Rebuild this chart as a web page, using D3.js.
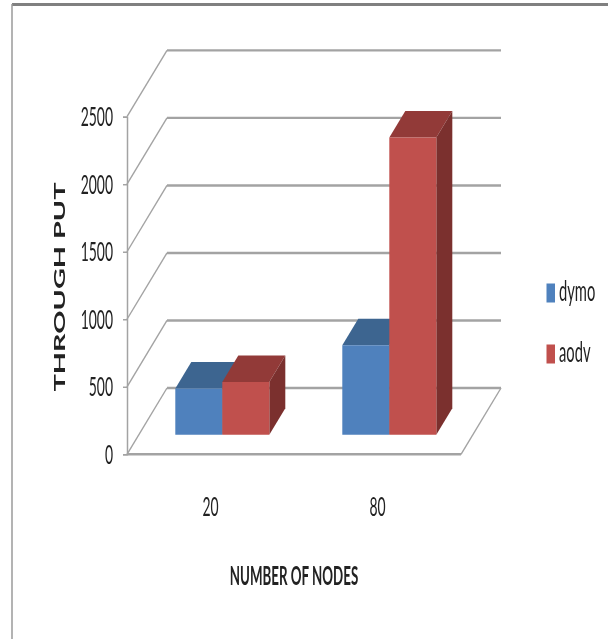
<!DOCTYPE html>
<html>
<head>
<meta charset="utf-8">
<script src="https://cdn.jsdelivr.net/npm/d3@7"></script>
<style>
html,body{margin:0;padding:0;background:#fff;overflow:hidden}
svg{display:block;filter:blur(0.45px)}
text{font-family:Lato,"Liberation Sans",sans-serif;fill:#222}
</style>
</head>
<body>
<script>
const categories = ["20", "80"];
const seriesNames = ["dymo", "aodv"];
const dymo = [342, 663];
const aodv = [391, 2201];
const yTicks = [0, 500, 1000, 1500, 2000, 2500];
const xTitle = "NUMBER OF NODES";
const yTitle = "THROUGH PUT";

const colors = {
  dymo: {front: "#4f81bd", top: "#3d6590", side: "#37597f"},
  aodv: {front: "#c0504d", top: "#923a38", side: "#7b302e"}
};
const values = {dymo, aodv};

const W = 608, H = 639;
const svg = d3.select("body").append("svg").attr("width", W).attr("height", H);

// frame of the pasted picture
svg.append("line").attr("x1", 12).attr("x2", W).attr("y1", 4.5).attr("y2", 4.5)
  .attr("stroke", "#808080").attr("stroke-width", 3);
svg.append("line").attr("x1", 12).attr("x2", 12).attr("y1", 4).attr("y2", H)
  .attr("stroke", "#9a9a9a").attr("stroke-width", 1.5);

// scales: front plane, plus a depth projection
const y = d3.scaleLinear().domain([0, 2500]).range([454.3, 116.7]);
const x = d3.scaleBand().domain(categories).range([127, 461]);
const barX = d3.scaleBand().domain(seriesNames).range([-47, 47]);
const DX = 40, DY = -66.3;
const px = (xv, d) => xv + d * DX;
const py = (v, d) => y(v) + d * DY;
const gridColor = "#a3a3a3";

// back-wall gridlines and side-wall diagonals
const grid = svg.append("g");
grid.selectAll(".g").data(yTicks).join("line")
  .attr("x1", px(127, 1)).attr("x2", px(461, 1))
  .attr("y1", d => py(d, 1)).attr("y2", d => py(d, 1))
  .attr("stroke", gridColor).attr("stroke-width", 2.4);
grid.selectAll(".d").data(yTicks).join("line")
  .attr("x1", px(127, 0)).attr("x2", px(127, 1))
  .attr("y1", d => py(d, 0)).attr("y2", d => py(d, 1))
  .attr("stroke", gridColor).attr("stroke-width", 1.4);

// floor
svg.append("line").attr("x1", 127).attr("x2", 461).attr("y1", y(0)).attr("y2", y(0))
  .attr("stroke", gridColor).attr("stroke-width", 2.4);
svg.append("line").attr("x1", px(461, 0)).attr("x2", px(461, 1))
  .attr("y1", py(0, 0)).attr("y2", py(0, 1))
  .attr("stroke", gridColor).attr("stroke-width", 1.4);

// y axis
const axis = svg.append("g").attr("transform", "translate(127,0)")
  .call(d3.axisLeft(y).tickValues(yTicks).tickSize(4).tickPadding(0).tickFormat(d3.format("d")));
axis.selectAll("path,line").attr("stroke", gridColor).attr("stroke-width", 1.5);
axis.selectAll("text").remove();
svg.append("g").selectAll("text").data(yTicks).join("text")
  .attr("text-anchor", "end")
  .attr("transform", d => `translate(113,${y(d) + 9.5}) scale(0.87,1.72)`)
  .attr("font-size", 16)
  .text(d => d);

// bars
const depthFront = 0.295, depthBack = 0.695;
const poly = pts => pts.map(p => p.join(",")).join(" ");
const bars = svg.append("g");
categories.forEach((c, ci) => {
  const cx = x(c) + x.bandwidth() / 2;
  seriesNames.forEach(s => {
    const v = values[s][ci];
    const x0 = cx + barX(s), x1 = x0 + barX.bandwidth();
    const g = bars.append("g");
    const col = colors[s];
    g.append("polygon").attr("fill", col.top).attr("points", poly([
      [px(x0, depthFront), py(v, depthFront)],
      [px(x1, depthFront), py(v, depthFront)],
      [px(x1, depthBack), py(v, depthBack)],
      [px(x0, depthBack), py(v, depthBack)]
    ]));
    g.append("polygon").attr("fill", col.side).attr("points", poly([
      [px(x1, depthFront), py(v, depthFront)],
      [px(x1, depthBack), py(v, depthBack)],
      [px(x1, depthBack), py(0, depthBack)],
      [px(x1, depthFront), py(0, depthFront)]
    ]));
    g.append("polygon").attr("fill", col.front).attr("points", poly([
      [px(x0, depthFront), py(v, depthFront)],
      [px(x1, depthFront), py(v, depthFront)],
      [px(x1, depthFront), py(0, depthFront)],
      [px(x0, depthFront), py(0, depthFront)]
    ]));
  });
});

// category labels
svg.append("g").selectAll("text").data(categories).join("text")
  .attr("text-anchor", "middle")
  .attr("transform", d => `translate(${x(d) + x.bandwidth() / 2},516) scale(0.87,1.72)`)
  .attr("font-size", 16)
  .text(d => d);

// axis titles
svg.append("text").attr("text-anchor", "middle")
  .attr("transform", "translate(294,585) scale(0.86,1.66)")
  .attr("font-size", 15.5).attr("font-weight", "bold").attr("fill", "#111")
  .text(xTitle);
svg.append("text").attr("text-anchor", "middle")
  .attr("transform", "translate(65,287) rotate(-90) scale(1.86,1.02)")
  .attr("font-size", 15.5).attr("font-weight", "bold").attr("fill", "#111")
  .text(yTitle);

// legend
const legendY = d3.scalePoint().domain(seriesNames).range([293, 354]);
const legend = svg.append("g").selectAll("g").data(seriesNames).join("g");
legend.append("rect").attr("x", 546.5).attr("width", 8.5)
  .attr("y", d => legendY(d) - 9.5).attr("height", 19)
  .attr("fill", d => colors[d].front);
legend.append("text")
  .attr("transform", d => `translate(559,${legendY(d) + 7.5}) scale(0.92,1.75)`)
  .attr("font-size", 16)
  .text(d => d);
</script>
</body>
</html>
